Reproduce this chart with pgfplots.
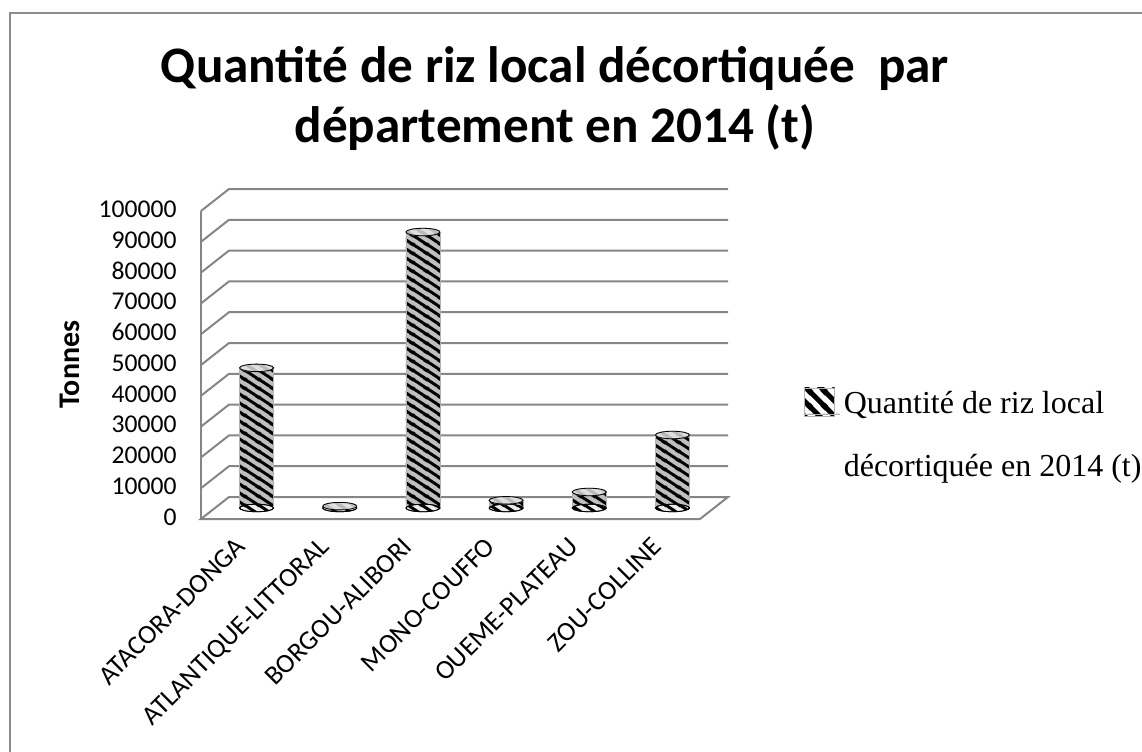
\documentclass[border=0pt]{standalone}
\usepackage{fontspec}
\setmainfont{Carlito}
\newfontfamily\seriffont{Liberation Serif}
\usepackage{pgfplots}
\usepackage{pgfplotstable}
\pgfplotsset{compat=1.18}
\usetikzlibrary{patterns}
\definecolor{wallgray}{RGB}{134,134,134}
\definecolor{bordergray}{RGB}{140,140,140}

% thick diagonal stripes, descending to the right (about -33 degrees)
\pgfdeclarepatternformonly{barstripes}{\pgfpointorigin}{\pgfpoint{6.8pt}{4.4pt}}{\pgfpoint{6.8pt}{4.4pt}}{%
  \pgfsetlinewidth{1.5pt}%
  \pgfpathmoveto{\pgfpoint{-1pt}{5.047pt}}\pgfpathlineto{\pgfpoint{7.8pt}{-0.647pt}}%
  \pgfpathmoveto{\pgfpoint{-1pt}{9.447pt}}\pgfpathlineto{\pgfpoint{7.8pt}{3.753pt}}%
  \pgfpathmoveto{\pgfpoint{-1pt}{0.647pt}}\pgfpathlineto{\pgfpoint{7.8pt}{-5.047pt}}%
  \pgfusepath{stroke}}
% legend stripes at -45 degrees
\pgfdeclarepatternformonly{legstripes}{\pgfpointorigin}{\pgfpoint{7.5pt}{7.5pt}}{\pgfpoint{7.5pt}{7.5pt}}{%
  \pgfsetlinewidth{2.5pt}%
  \pgfpathmoveto{\pgfpoint{-1pt}{8.5pt}}\pgfpathlineto{\pgfpoint{8.5pt}{-1pt}}%
  \pgfpathmoveto{\pgfpoint{-1pt}{16pt}}\pgfpathlineto{\pgfpoint{16pt}{-1pt}}%
  \pgfpathmoveto{\pgfpoint{-8.5pt}{8.5pt}}\pgfpathlineto{\pgfpoint{8.5pt}{-8.5pt}}%
  \pgfusepath{stroke}}

\pgfplotstableread{
x   y
0.5 45500
1.5 600
2.5 89600
3.5 2500
4.5 5200
5.5 23700
}\ricedata

\begin{document}
\begin{tikzpicture}
\useasboundingbox (0pt,0pt) rectangle (571pt,375.5pt);
\draw[line width=1pt, bordergray] (4.75pt,-5pt) -- (4.75pt,369pt) -- (580pt,369pt);
\node[font=\fontsize{25.6}{30}\selectfont\bfseries, anchor=base] at (277.5pt,334pt) {Quantité de riz local décortiquée~ par};
\node[font=\fontsize{25.6}{30}\selectfont\bfseries, anchor=base] at (277.5pt,304pt) {département en 2014 (t)};
\begin{axis}[
  at={(107.5pt,121.5pt)}, anchor=south west,
  scale only axis, width=249.5pt, height=154pt,
  xmin=0, xmax=6, ymin=0, ymax=100000,
  clip=false,
  axis line style={draw=none},
  major tick length=0pt,
  /pgf/number format/fixed,
  /pgf/number format/assume math mode=true,
  /pgf/number format/1000 sep={},
  xtick={0.5,1.5,2.5,3.5,4.5,5.5},
  xticklabels={ATACORA-DONGA,ATLANTIQUE-LITTORAL,BORGOU-ALIBORI,MONO-COUFFO,OUEME-PLATEAU,ZOU-COLLINE},
  xticklabel style={font=\fontsize{13.5}{15}\selectfont, xshift=-11pt, yshift=-9pt, rotate=45, anchor=north east},
  ytick={0,10000,20000,30000,40000,50000,60000,70000,80000,90000,100000},
  scaled y ticks=false,
  yticklabel style={font=\fontsize{12.8}{15}\selectfont, xshift=-15.7pt, yshift=-4.5pt},
  ylabel={Tonnes},
  ylabel style={font=\fontsize{15}{18}\selectfont\bfseries, at={(axis description cs:-0.29,0.466)}, anchor=center},
  legend style={at={(axis description cs:1.180,0.406)}, anchor=north west, draw=none, fill=none, inner sep=0pt,
    font=\fontsize{16}{19}\selectfont\seriffont, cells={anchor=base west}},
]
% back wall gridlines and left wall diagonals
\pgfplotsinvokeforeach{10000,20000,30000,40000,50000,60000,70000,80000,90000,100000}{
  \draw[wallgray, line width=1pt] ([shift={(-7pt,-5.5pt)}]axis cs:0,#1) -- ([shift={(7pt,5.5pt)}]axis cs:0,#1) -- ([shift={(7pt,5.5pt)}]axis cs:6,#1);
}
% floor
\draw[wallgray, line width=1pt] ([shift={(-7pt,-5.5pt)}]axis cs:0,0) -- ([shift={(-7pt,-5.5pt)}]axis cs:6,0) -- ([shift={(7pt,5.5pt)}]axis cs:6,0) -- ([shift={(7pt,5.5pt)}]axis cs:0,0) -- cycle;
% front vertical axis
\draw[wallgray, line width=1pt] ([shift={(-7pt,-5.5pt)}]axis cs:0,0) -- ([shift={(-7pt,-5.5pt)}]axis cs:0,100000);

% bottom rounded ends
\addplot[forget plot, only marks, mark=*, mark size=8.5pt,
  mark options={yscale=0.22, draw=none, fill=gray!15}] table[x=x,y expr=0] {\ricedata};
\addplot[forget plot, only marks, mark=*, mark size=8.5pt,
  mark options={yscale=0.22, draw=none, pattern=barstripes, pattern color=black}] table[x=x,y expr=0] {\ricedata};
% cylinders: shading
\addplot[forget plot, ybar, bar width=17pt, draw=none,
  left color=gray!50, middle color=white, right color=gray!50]
  table[x=x,y=y] {\ricedata};
% cylinders: stripes
\addplot[ybar, bar width=17pt, draw=gray!60, line width=0.3pt,
  pattern=barstripes, pattern color=black,
  legend image code/.code={\fill[pattern=legstripes, pattern color=black] (0pt,-1pt) rectangle (15pt,13pt); \path (0pt,0pt) -- (17.5pt,0pt);}]
  table[x=x,y=y] {\ricedata};
\addlegendentry{{\begin{tabular}[t]{@{}l@{}}Quantité de riz local\\[12.5pt]décortiquée en 2014 (t)\end{tabular}}}
% top caps
\addplot[forget plot, only marks, mark=*, mark size=8.5pt,
  mark options={yscale=0.22, draw=gray!80, fill=gray!25}] table[x=x,y=y] {\ricedata};
\addplot[forget plot, only marks, mark=*, mark size=8.5pt,
  mark options={yscale=0.22, draw=none, pattern=barstripes, pattern color=gray!55}] table[x=x,y=y] {\ricedata};
\end{axis}
\end{tikzpicture}
\end{document}
